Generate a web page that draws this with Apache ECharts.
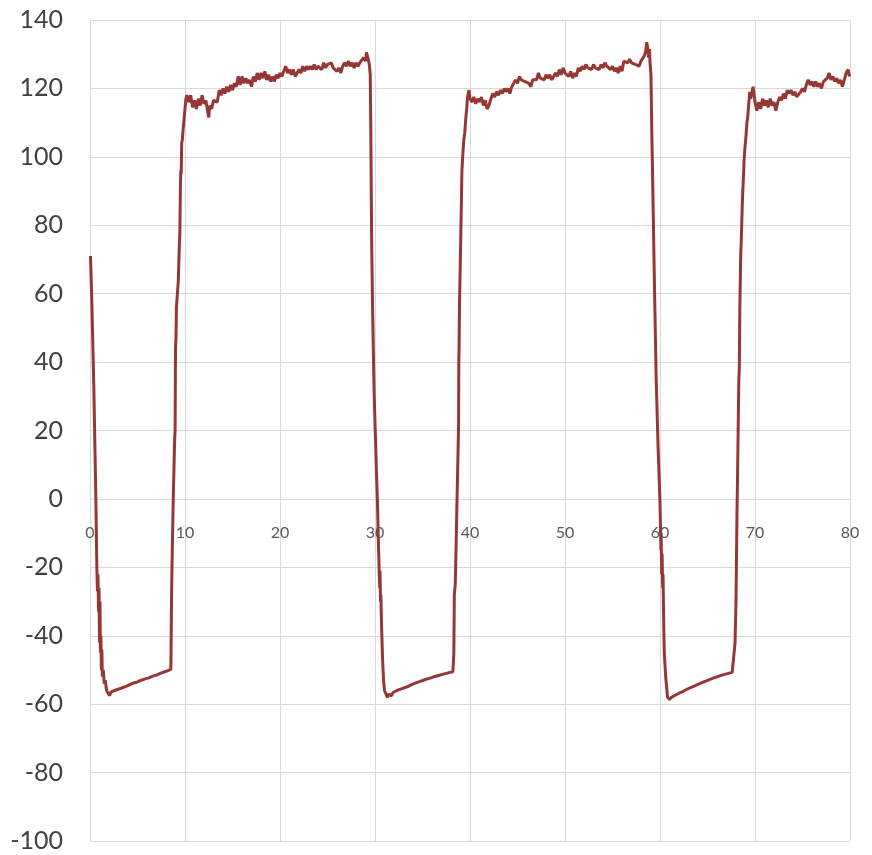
<!DOCTYPE html>
<html>
<head>
<meta charset="utf-8">
<script src="https://cdn.jsdelivr.net/npm/echarts@6/dist/echarts.min.js"></script>
<style>
html,body{margin:0;padding:0;background:#fff;}
#chart{width:872px;height:855px;}
</style>
</head>
<body>
<div id="chart"></div>
<script>
// [time, value] pairs, segment by segment
const fall1 = [[0.05,71],[0.2,57],[0.4,33],[0.6,3],[0.72,-20],[0.78,-27],[0.84,-22],[0.9,-33],[0.95,-26],[1.0,-42],[1.05,-30],[1.1,-45],[1.15,-40],[1.2,-50],[1.25,-44],[1.3,-52],[1.4,-50],[1.5,-54],[1.6,-53],[1.75,-56],[1.9,-55.5],[2.05,-57.5],[2.2,-56.5]];
const low1 = [[2.4,-56.8],[2.6,-56],[2.8,-56.5],[3.0,-55.6],[3.2,-56],[3.4,-55.2],[3.6,-55.5],[3.8,-54.8],[4.0,-55],[4.2,-54.3],[4.4,-54.6],[4.6,-53.8],[4.8,-54.2],[5.0,-53.5],[5.2,-53.8],[5.4,-53],[5.6,-53.4],[5.8,-52.6],[6.0,-52.9],[6.2,-52.3],[6.4,-52.6],[6.6,-51.8],[6.8,-52.2],[7.0,-51.5],[7.2,-51.8],[7.4,-51],[7.6,-51.4],[7.8,-50.6],[8.0,-50.9],[8.2,-50.2],[8.4,-50.5],[8.5,-49.8]];
const rise1 = [[8.52,-48],[8.58,-30],[8.62,-22],[8.68,-12],[8.78,2],[8.88,14],[8.92,18],[8.96,20],[9.0,44],[9.05,47],[9.1,56],[9.2,60],[9.3,64],[9.38,72],[9.46,78],[9.52,92],[9.56,96],[9.6,95],[9.65,104],[9.72,105],[9.8,108],[9.9,111],[10.0,114],[10.1,117],[10.2,118]];
const high1 = [[10.4,116],[10.6,118],[10.8,114.5],[11.0,116.5],[11.2,114],[11.4,117],[11.6,115],[11.8,118],[12.0,115.5],[12.2,116.5],[12.4,113],[12.5,111.5],[12.6,115],[12.8,114],[13.0,116.5],[13.2,117],[13.4,116],[13.6,119.5],[13.8,118],[14.0,120],[14.2,118.5],[14.4,120.5],[14.6,119],[14.8,121],[15.0,119.5],[15.2,121.5],[15.4,120.5],[15.6,123.5],[15.8,121],[16.0,123.5],[16.2,121.5],[16.4,123],[16.6,121.5],[16.8,122.5],[17.0,120.5],[17.2,123.5],[17.4,122],[17.6,124.5],[17.8,122.5],[18.0,124.5],[18.2,123],[18.4,125],[18.6,122.5],[18.8,124],[19.0,122],[19.2,123.5],[19.4,122],[19.6,124],[19.8,123],[20.0,124.5],[20.2,123.5],[20.4,125],[20.6,126.5],[20.8,124.5],[21.0,125.5],[21.2,124],[21.4,125.5],[21.6,123.5],[21.8,124.5],[22.0,125.5],[22.2,124.5],[22.4,126.5],[22.6,125],[22.8,126.5],[23.0,125.5],[23.2,126.5],[23.4,125.5],[23.6,127],[23.8,125.5],[24.0,126.5],[24.2,127],[24.4,125.5],[24.6,127.5],[24.8,126],[25.0,127],[25.2,126.5],[25.4,127.5],[25.6,126],[25.8,126.5],[26.0,125],[26.2,126],[26.4,124.5],[26.6,126.5],[26.8,127.5],[27.0,126.5],[27.2,128],[27.4,126.5],[27.6,127.5],[27.8,126],[28.0,127.5],[28.2,126.5],[28.4,127.5],[28.6,127],[28.8,129],[29.0,128],[29.1,130.5],[29.2,129.5],[29.3,128.5],[29.4,127],[29.5,124]];
const fall2 = [[29.55,110],[29.65,75],[29.75,55],[29.9,32],[30.0,22],[30.05,18],[30.15,8],[30.25,0],[30.35,-12],[30.45,-22],[30.5,-26],[30.53,-21],[30.58,-30],[30.62,-28],[30.7,-38],[30.8,-47],[30.9,-53],[31.0,-56],[31.15,-57],[31.3,-58]];
const low2 = [[31.5,-57],[31.7,-57.6],[31.9,-56.6],[32.1,-57],[32.3,-56],[32.5,-56.4],[32.7,-55.6],[32.9,-55.9],[33.1,-55.2],[33.3,-55.6],[33.5,-54.8],[33.7,-55],[33.9,-54.2],[34.1,-54.6],[34.3,-53.8],[34.5,-54.1],[34.7,-53.4],[34.9,-53.8],[35.1,-53],[35.3,-53.3],[35.5,-52.6],[35.7,-53],[35.9,-52.3],[36.1,-52.6],[36.3,-51.9],[36.5,-52.3],[36.7,-51.6],[36.9,-52],[37.1,-51.3],[37.3,-51.6],[37.5,-51],[37.7,-51.3],[37.9,-50.7],[38.1,-51],[38.2,-50.5]];
const rise2 = [[38.3,-45],[38.35,-28],[38.45,-25],[38.6,-5],[38.75,15],[38.8,22],[38.82,40],[38.85,44],[38.9,58],[39.0,72],[39.1,88],[39.15,96],[39.25,101],[39.35,105],[39.45,107],[39.55,111],[39.65,114],[39.75,117.6]];
const high2 = [[39.9,119.5],[40.0,117],[40.2,116],[40.4,117.5],[40.6,115.5],[40.8,117],[41.0,116],[41.2,117.5],[41.4,115],[41.6,116.5],[41.8,114],[42.0,115],[42.2,117],[42.4,118.5],[42.6,117.5],[42.8,119],[43.0,118],[43.2,119.5],[43.4,118.5],[43.6,120],[43.8,119],[44.0,120],[44.2,118.5],[44.4,120.5],[44.6,121.5],[44.8,122.5],[45.0,121.5],[45.2,123.5],[45.4,122.5],[45.6,123],[45.8,122],[46.0,122.5],[46.2,121.5],[46.4,120.5],[46.6,122.5],[46.8,123],[47.0,122.5],[47.2,124.5],[47.4,123],[47.6,123.5],[47.8,122.5],[48.0,124],[48.2,123],[48.4,124],[48.6,122.5],[48.8,123.5],[49.0,124.5],[49.2,123.5],[49.4,125.5],[49.6,124],[49.8,126],[50.0,124.5],[50.2,125],[50.4,123.5],[50.6,125],[50.8,123],[51.0,124.5],[51.2,123.5],[51.4,126],[51.6,125],[51.8,126.5],[52.0,125.5],[52.2,127],[52.4,126],[52.6,126.5],[52.8,125.5],[53.0,127],[53.2,126],[53.4,126.5],[53.6,125.5],[53.8,127],[54.0,126],[54.2,127.5],[54.4,126.5],[54.6,127],[54.8,125.5],[55.0,126.5],[55.2,125],[55.4,126],[55.6,124.5],[55.8,126.5],[56.0,125],[56.2,128],[56.4,128.5],[56.6,127.5],[56.8,128.5],[57.0,127.5],[57.2,128],[57.4,127],[57.6,127.5],[57.8,126.5],[58.0,128],[58.2,127.5],[58.35,129.5],[58.5,131],[58.6,133.5],[58.7,132],[58.8,129],[58.9,131.5],[58.95,127.5],[59.05,124]];
const fall3 = [[59.15,105],[59.2,98],[59.4,65],[59.6,35],[59.8,15],[60.0,-1],[60.1,-15],[60.12,-10],[60.18,-22],[60.22,-16],[60.28,-26],[60.32,-22],[60.4,-38],[60.45,-45],[60.6,-52],[60.8,-58],[61.0,-58.6]];
const low3 = [[61.2,-58],[61.4,-58.3],[61.6,-57.4],[61.8,-57.7],[62.0,-56.8],[62.2,-57.1],[62.4,-56.3],[62.6,-56.6],[62.8,-55.7],[63.0,-56],[63.2,-55.2],[63.4,-55.5],[63.6,-54.7],[63.8,-55],[64.0,-54.2],[64.2,-54.5],[64.4,-53.7],[64.6,-54],[64.8,-53.3],[65.0,-53.6],[65.2,-52.8],[65.4,-53.1],[65.6,-52.4],[65.8,-52.7],[66.0,-52],[66.2,-52.3],[66.4,-51.6],[66.6,-51.9],[66.8,-51.3],[67.0,-51.6],[67.2,-51],[67.4,-51.3],[67.6,-50.7],[67.8,-51]];
const rise3 = [[67.9,-42],[68.0,-30],[68.1,-5],[68.15,4],[68.25,25],[68.3,35],[68.35,38],[68.4,55],[68.5,72],[68.55,75],[68.65,85],[68.7,89],[68.8,95],[68.85,99],[68.95,103],[69.05,106],[69.15,110],[69.25,112],[69.35,116],[69.45,119],[69.55,117]];
const high3 = [[69.6,118],[69.8,120.5],[70.0,116],[70.2,113.5],[70.4,116],[70.6,114],[70.8,117],[71.0,115],[71.2,116.5],[71.4,114.5],[71.6,117],[71.8,115],[72.0,116],[72.2,113.5],[72.4,116],[72.6,117.5],[72.8,116.5],[73.0,118.5],[73.2,117],[73.4,119.5],[73.6,118.5],[73.8,119.5],[74.0,118],[74.2,119],[74.4,117.5],[74.6,117],[74.8,119],[75.0,120],[75.2,119],[75.4,121],[75.6,122.5],[75.8,121],[76.0,122],[76.2,120.5],[76.4,122],[76.6,120.5],[76.8,121.5],[77.0,120],[77.2,122],[77.4,121.5],[77.6,123],[77.8,124.5],[78.0,122.5],[78.2,123.5],[78.4,122],[78.6,123],[78.8,121.5],[79.0,122.5],[79.2,120.5],[79.4,122.5],[79.6,124.5],[79.8,125.5],[79.95,123.5]];

const xTicks = [0, 10, 20, 30, 40, 50, 60, 70, 80];
const yTicks = [-100, -80, -60, -40, -20, 0, 20, 40, 60, 80, 100, 120, 140];

const series = [].concat(fall1, low1, rise1, high1, fall2, low2, rise2, high2, fall3, low3, rise3, high3);

const chart = echarts.init(document.getElementById('chart'), null, {renderer: 'canvas'});
chart.setOption({
  animation: false,
  backgroundColor: '#ffffff',
  grid: {left: 90, right: 22, top: 20, bottom: 14, containLabel: false, outerBoundsMode: 'none'},
  xAxis: {
    type: 'value',
    position: 'bottom',
    offset: -342,
    min: xTicks[0], max: xTicks[xTicks.length - 1], interval: 10,
    axisLine: {show: false, onZero: false},
    axisTick: {show: false},
    axisLabel: {color: '#595959', fontSize: 16, fontFamily: 'Lato', margin: 26},
    splitLine: {show: true, lineStyle: {color: '#d9d9d9', width: 1}}
  },
  yAxis: {
    type: 'value',
    min: yTicks[0], max: yTicks[yTicks.length - 1], interval: 20,
    axisLine: {show: false},
    axisTick: {show: false},
    axisLabel: {color: '#404040', fontSize: 25, fontFamily: 'Lato', margin: 27},
    splitLine: {show: true, lineStyle: {color: '#d9d9d9', width: 1}}
  },
  series: [{
    type: 'line',
    data: series,
    showSymbol: false,
    smooth: false,
    sampling: null,
    lineStyle: {color: '#953735', width: 3},
    itemStyle: {color: '#953735'}
  }]
});
</script>
</body>
</html>
